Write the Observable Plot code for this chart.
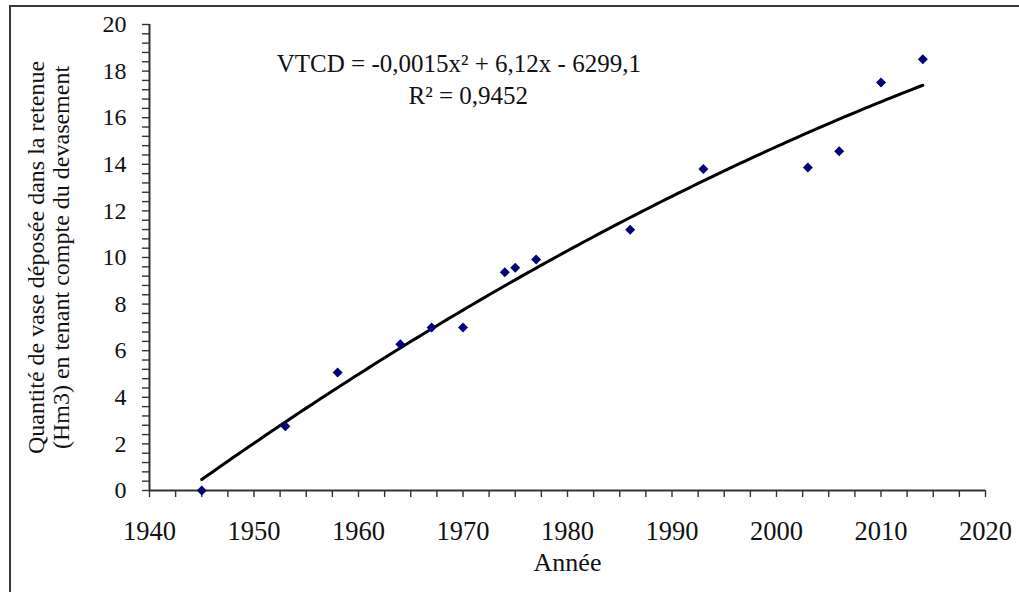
<!DOCTYPE html>
<html><head><meta charset="utf-8">
<script src="https://cdn.jsdelivr.net/npm/d3@7"></script>
<script src="https://cdn.jsdelivr.net/npm/@observablehq/plot@0.6"></script>
<style>
html,body{margin:0;padding:0;background:#fff;overflow:hidden;width:1019px;height:592px;}
#frame{position:absolute;left:9px;top:5px;width:1100px;height:700px;border:2px solid #3a3a3a;box-sizing:border-box;}
#chart{position:absolute;left:0;top:0;}
</style></head><body>
<div id="frame"></div>
<div id="chart"></div>
<script>
// Data
const years   = [1945, 1953, 1958, 1964, 1967, 1970, 1974, 1975, 1977, 1986, 1993, 2003, 2006, 2010, 2014];
const volumes = [0, 2.76, 5.06, 6.28, 7.0, 7.0, 9.37, 9.56, 9.91, 11.19, 13.8, 13.86, 14.56, 17.51, 18.51];
const xLabels = [1940, 1950, 1960, 1970, 1980, 1990, 2000, 2010, 2020];
const yLabels = [0, 2, 4, 6, 8, 10, 12, 14, 16, 18, 20];
const xTitle = "Année";
const yTitleLines = ["Quantité de vase déposée dans la retenue", "(Hm3) en tenant compte du devasement"];
const eqTexts = ["VTCD = -0,0015x² + 6,12x - 6299,1", "R² = 0,9452"];
const eqX = [1969.6, 1970.5];
const eqY = [18.3, 16.95];

const points = years.map((y, i) => ({year: y, v: volumes[i]}));
const annotations = eqTexts.map((t, i) => ({text: t, x: eqX[i], y: eqY[i]}));

// Quadratic least-squares trend (as in the spreadsheet trendline)
function quadFit(xs, ys) {
  const x0 = d3.mean(xs);
  const S = [0,0,0,0,0], T = [0,0,0];
  xs.forEach((x, i) => {
    const t = x - x0;
    for (let k = 0; k < 5; k++) S[k] += t ** k;
    for (let k = 0; k < 3; k++) T[k] += ys[i] * t ** k;
  });
  const M = [[S[0], S[1], S[2], T[0]], [S[1], S[2], S[3], T[1]], [S[2], S[3], S[4], T[2]]];
  for (let c = 0; c < 3; c++) {
    for (let r = c + 1; r < 3; r++) {
      const f = M[r][c] / M[c][c];
      for (let k = c; k < 4; k++) M[r][k] -= f * M[c][k];
    }
  }
  const a = [0,0,0];
  for (let r = 2; r >= 0; r--) {
    let s = M[r][3];
    for (let k = r + 1; k < 3; k++) s -= M[r][k] * a[k];
    a[r] = s / M[r][r];
  }
  return x => { const t = x - x0; return a[0] + a[1] * t + a[2] * t * t; };
}
const fit = quadFit(years, volumes);
const trend = d3.range(years[0], years[years.length - 1] + 0.001, 0.5).map(x => ({year: x, v: fit(x)}));

const xMinor = d3.range(xLabels[0], xLabels[xLabels.length - 1] + 0.001, 2.5);
const yMinor = d3.range(yLabels[0], yLabels[yLabels.length - 1] + 0.001, 0.4);

const chart = Plot.plot({
  width: 1019,
  height: 592,
  marginLeft: 149,
  marginRight: 34,
  marginTop: 24,
  marginBottom: 102,
  style: {fontFamily: "'Liberation Serif', 'Times New Roman', serif", fontSize: "24px", background: "transparent", color: "#111"},
  x: {domain: [1940, 2020]},
  y: {domain: [0, 20]},
  marks: [
    Plot.axisY(yMinor, {anchor: "left", tickSize: 7, tickFormat: () => "", label: null, strokeWidth: 1.4, stroke: "#333"}),
    Plot.axisY(yLabels, {anchor: "left", tickSize: 0, tickPadding: 23, tickFormat: d => String(d), label: null, fontSize: 24}),
    Plot.axisX(xMinor, {anchor: "bottom", tickSize: 7, tickFormat: () => "", label: null, strokeWidth: 1.4, stroke: "#333"}),
    Plot.axisX(xLabels, {anchor: "bottom", tickSize: 0, tickPadding: 31, tickFormat: d => String(d), label: null, fontSize: 26.5}),
    Plot.ruleY([0], {stroke: "#333", strokeWidth: 2}),
    Plot.ruleX([1940], {stroke: "#333", strokeWidth: 2}),
    Plot.line(trend, {x: "year", y: "v", stroke: "#000", strokeWidth: 3, curve: "linear"}),
    Plot.dot(points, {x: "year", y: "v", symbol: "diamond2", r: 4.5, fill: "#00007a", stroke: "none"}),
    Plot.text(annotations, {x: "x", y: "y", text: "text", fontSize: 25, fill: "#111"}),
    Plot.text([xTitle], {frameAnchor: "bottom", dy: 80, fontSize: 26, fill: "#111"}),
    Plot.text([yTitleLines.join("\n")], {frameAnchor: "left", textAnchor: "middle", rotate: -90, dx: -101, lineHeight: 1.05, fontSize: 24, fill: "#111"})
  ]
});
document.getElementById("chart").appendChild(chart);
</script>
</body></html>
